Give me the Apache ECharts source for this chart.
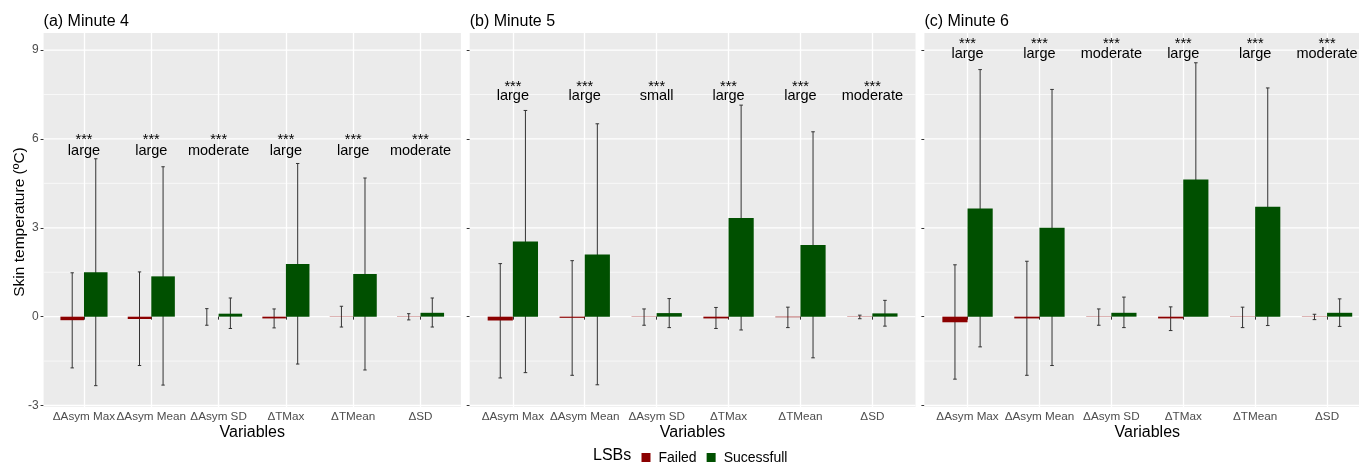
<!DOCTYPE html>
<html><head><meta charset="utf-8">
<script src="https://cdn.jsdelivr.net/npm/echarts@6/dist/echarts.min.js"></script>
<style>html,body{margin:0;padding:0;background:#fff}#c{width:1359px;height:462px}</style>
</head><body><div id="c"></div>
<script>
// ---------- data ----------
const categories = ['ΔAsym Max', 'ΔAsym Mean', 'ΔAsym SD', 'ΔTMax', 'ΔTMean', 'ΔSD'];
const panelTitles = ['(a) Minute 4', '(b) Minute 5', '(c) Minute 6'];
const yTickValues = [-3, 0, 3, 6, 9];
const yMinorValues = [-1.5, 1.5, 4.5, 7.5];

// Minute 4
const failedMean4 = [-0.12, -0.08, 0, -0.06, -0.01, -0.01];
const failedLow4  = [-1.73, -1.65, -0.29, -0.38, -0.35, -0.11];
const failedHigh4 = [1.48, 1.51, 0.27, 0.26, 0.35, 0.10];
const succMean4   = [1.50, 1.36, 0.10, 1.78, 1.44, 0.13];
const succLow4    = [-2.33, -2.31, -0.40, -1.60, -1.80, -0.35];
const succHigh4   = [5.33, 5.06, 0.63, 5.17, 4.68, 0.63];
const stars4      = ['***', '***', '***', '***', '***', '***'];
const effect4     = ['large', 'large', 'moderate', 'large', 'large', 'moderate'];

// Minute 5
const failedMean5 = [-0.13, -0.04, -0.01, -0.06, -0.02, -0.01];
const failedLow5  = [-2.07, -1.98, -0.29, -0.40, -0.37, -0.07];
const failedHigh5 = [1.79, 1.89, 0.26, 0.31, 0.32, 0.05];
const succMean5   = [2.54, 2.10, 0.12, 3.33, 2.42, 0.11];
const succLow5    = [-1.89, -2.30, -0.37, -0.45, -1.39, -0.32];
const succHigh5   = [6.96, 6.51, 0.61, 7.14, 6.24, 0.55];
const stars5      = ['***', '***', '***', '***', '***', '***'];
const effect5     = ['large', 'large', 'small', 'large', 'large', 'moderate'];

// Minute 6
const failedMean6 = [-0.19, -0.06, -0.01, -0.06, -0.01, -0.01];
const failedLow6  = [-2.11, -1.98, -0.29, -0.47, -0.37, -0.10];
const failedHigh6 = [1.75, 1.87, 0.26, 0.33, 0.32, 0.08];
const succMean6   = [3.65, 3.00, 0.13, 4.63, 3.71, 0.13];
const succLow6    = [-1.02, -1.65, -0.37, 0.70, -0.30, -0.33];
const succHigh6   = [8.34, 7.67, 0.66, 8.57, 7.72, 0.60];
const stars6      = ['***', '***', '***', '***', '***', '***'];
const effect6     = ['large', 'large', 'moderate', 'large', 'large', 'moderate'];

// ---------- layout / style ----------
const FONT = '"Liberation Sans", Arial, sans-serif';
const RED = '#8B0000', GREEN = '#005000';
const panelsData = [
  {fm: failedMean4, fl: failedLow4, fh: failedHigh4, sm: succMean4, sl: succLow4, sh: succHigh4, st: stars4, ef: effect4},
  {fm: failedMean5, fl: failedLow5, fh: failedHigh5, sm: succMean5, sl: succLow5, sh: succHigh5, st: stars5, ef: effect5},
  {fm: failedMean6, fl: failedLow6, fh: failedHigh6, sm: succMean6, sl: succLow6, sh: succHigh6, st: stars6, ef: effect6}
];
const panelBox = [{left: 43.6, width: 417.3}, {left: 469.7, width: 445.8}, {left: 924.4, width: 445.8}];
const annoY = [{star: 5.96, eff: 5.59}, {star: 7.75, eff: 7.45}, {star: 9.19, eff: 8.88}];
const TOP = 33, HEIGHT = 374, YMIN = -3.05, YMAX = 9.575;

const grid = [], xAxis = [], yAxis = [], series = [], title = [], graphic = [];

panelBox.forEach((pb, p) => {
  const s = pb.width / 6.2;
  const gA = 2 * p, gB = 2 * p + 1;
  grid.push({left: pb.left, top: TOP, width: pb.width, height: HEIGHT, show: true,
    backgroundColor: '#EBEBEB', borderWidth: 0, z: 0, outerBoundsMode: 'none', containLabel: false});
  grid.push({left: pb.left + 0.6 * s, top: TOP, width: 5 * s, height: HEIGHT, show: false,
    outerBoundsMode: 'none', containLabel: false});
  xAxis.push({gridIndex: gA, type: 'value', min: 0, max: 1, show: false});
  xAxis.push({gridIndex: gB, type: 'category', data: categories, boundaryGap: false, z: 1,
    axisLine: {show: false},
    axisTick: {show: true, length: 3, lineStyle: {color: '#333', width: 1}},
    axisLabel: {show: true, interval: 0, color: '#4D4D4D', fontSize: 11.7, fontFamily: FONT, margin: 4},
    splitLine: {show: true, lineStyle: {color: '#fff', width: 1.3}}});
  yAxis.push({gridIndex: gA, type: 'value', min: YMIN, max: YMAX,
    axisLine: {show: false},
    axisTick: {show: true, length: 3, customValues: yTickValues, lineStyle: {color: '#333', width: 1}},
    axisLabel: {show: p === 0, customValues: yTickValues, color: '#4D4D4D', fontSize: 12, fontFamily: FONT, margin: 5},
    splitLine: {show: false}});
  yAxis.push({gridIndex: gB, type: 'value', min: YMIN, max: YMAX, show: false, splitLine: {show: false}});

  // horizontal grid lines (major + minor)
  const gl = yTickValues.map(v => [0.5, v, 1]).concat(yMinorValues.map(v => [0.5, v, 0]));
  series.push({type: 'custom', xAxisIndex: gA, yAxisIndex: gA, silent: true, z: 1, clip: false,
    data: gl, encode: {x: 0, y: 1},
    renderItem: (params, api) => {
      const y = api.coord([0.5, api.value(1)])[1];
      const cs = params.coordSys;
      return {type: 'line', shape: {x1: cs.x, y1: y, x2: cs.x + cs.width, y2: y},
        style: {stroke: '#fff', lineWidth: api.value(2) ? 1.3 : 0.65}};
    }});

  const d = panelsData[p];
  // error bars (drawn beneath bars)
  const eb = [];
  categories.forEach((c, i) => {
    eb.push([i, d.fl[i], d.fh[i], 0]);
    eb.push([i, d.sl[i], d.sh[i], 1]);
  });
  series.push({type: 'custom', xAxisIndex: gB, yAxisIndex: gB, silent: true, z: 2, clip: false,
    data: eb, encode: {x: 0, y: [1, 2]},
    renderItem: (params, api) => {
      const i = api.value(0), lo = api.value(1), hi = api.value(2), k = api.value(3);
      const p0 = api.coord([0, 0]), p1 = api.coord([1, 0]);
      const bw = p1[0] - p0[0];
      const cx = api.coord([i, 0])[0] + (k ? 1 : -1) * 0.175 * bw;
      const yl = api.coord([i, lo])[1], yh = api.coord([i, hi])[1];
      const cap = 0.025 * bw;
      const st = {stroke: '#333', lineWidth: 1};
      return {type: 'group', children: [
        {type: 'line', shape: {x1: cx, y1: yl, x2: cx, y2: yh}, style: st},
        {type: 'line', shape: {x1: cx - cap, y1: yl, x2: cx + cap, y2: yl}, style: st},
        {type: 'line', shape: {x1: cx - cap, y1: yh, x2: cx + cap, y2: yh}, style: st}
      ]};
    }});

  series.push({type: 'bar', name: 'Failed', xAxisIndex: gB, yAxisIndex: gB, data: d.fm,
    barWidth: '35%', barGap: '0%', clip: false, z: 3, silent: true, itemStyle: {color: RED}});
  series.push({type: 'bar', name: 'Sucessfull', xAxisIndex: gB, yAxisIndex: gB, data: d.sm,
    barWidth: '35%', barGap: '0%', clip: false, z: 3, silent: true, itemStyle: {color: GREEN}});

  // annotations
  const anData = [], anText = [];
  categories.forEach((c, i) => {
    anData.push([i, annoY[p].star]); anText.push(d.st[i]);
    anData.push([i, annoY[p].eff]); anText.push(d.ef[i]);
  });
  series.push({type: 'custom', xAxisIndex: gB, yAxisIndex: gB, silent: true, z: 4, clip: false,
    data: anData, encode: {x: 0, y: 1},
    renderItem: (params, api) => {
      const pt = api.coord([api.value(0), api.value(1)]);
      return {type: 'text', x: pt[0], y: pt[1],
        style: {text: anText[params.dataIndex], fill: '#000', fontSize: 14.5, fontFamily: FONT,
          align: 'center', verticalAlign: 'middle'}};
    }});

  title.push({text: panelTitles[p], left: pb.left, top: 14, padding: 0,
    textStyle: {fontSize: 16, fontWeight: 'normal', color: '#000', fontFamily: FONT}});
  graphic.push({type: 'text', x: pb.left + pb.width / 2, y: 433,
    style: {text: 'Variables', fontSize: 16, fontFamily: FONT, fill: '#000', align: 'center', verticalAlign: 'middle'}});
});

graphic.push({type: 'text', x: 20, y: 222, rotation: Math.PI / 2,
  style: {text: 'Skin temperature (ºC)', fontSize: 15.5, fontFamily: FONT, fill: '#000', align: 'center', verticalAlign: 'middle'}});
graphic.push({type: 'text', x: 593, y: 456,
  style: {text: 'LSBs', fontSize: 16, fontFamily: FONT, fill: '#000', align: 'left', verticalAlign: 'middle'}});

const chart = echarts.init(document.getElementById('c'), null, {renderer: 'canvas'});
chart.setOption({
  animation: false,
  backgroundColor: '#fff',
  title: title,
  grid: grid,
  xAxis: xAxis,
  yAxis: yAxis,
  legend: {data: ['Failed', 'Sucessfull'], left: 641.5, top: 451, padding: 0, itemWidth: 9, itemHeight: 10,
    itemGap: 10, icon: 'rect', selectedMode: false,
    textStyle: {fontSize: 14, color: '#000', fontFamily: FONT, padding: [0, 0, 0, 3]}},
  graphic: graphic,
  series: series
});
</script>
</body></html>
